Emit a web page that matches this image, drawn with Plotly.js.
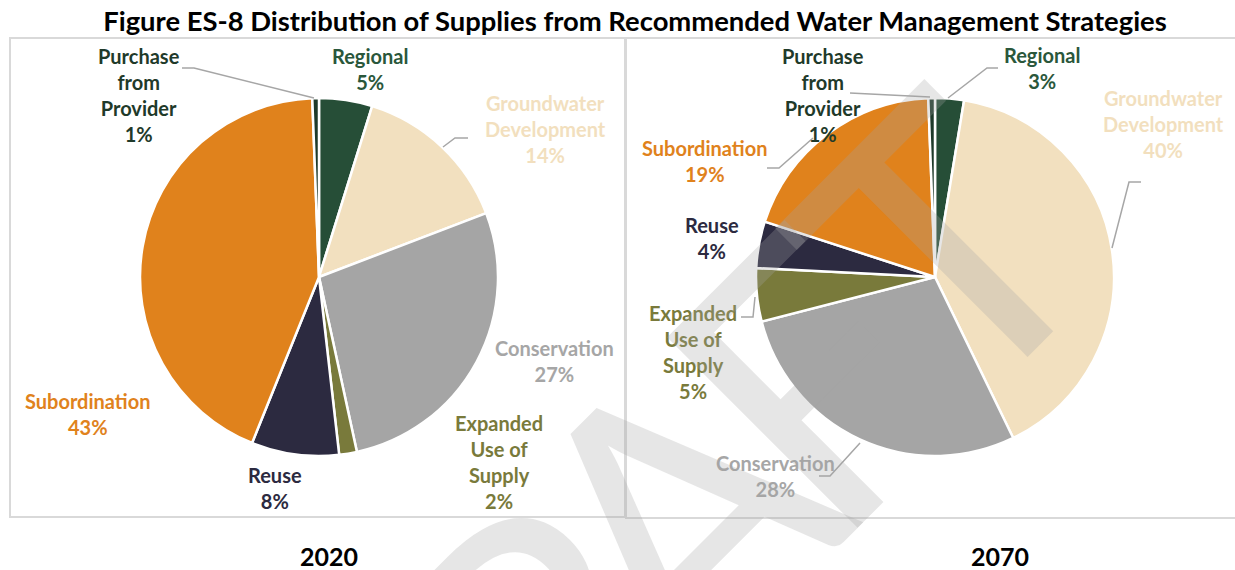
<!DOCTYPE html>
<html>
<head>
<meta charset="utf-8">
<script src="https://cdn.plot.ly/plotly-3.0.1.min.js"></script>
<style>
  html, body { margin: 0; padding: 0; background: #ffffff; }
  #chart { width: 1235px; height: 570px; }
</style>
</head>
<body>
<div id="chart"></div>
<script>
// ---------------- DATA ----------------
const categories = ['Regional', 'Groundwater Development', 'Conservation', 'Expanded Use of Supply', 'Reuse', 'Subordination', 'Purchase from Provider'];
const labelText = ['Regional', 'Groundwater<br>Development', 'Conservation', 'Expanded<br>Use of<br>Supply', 'Reuse', 'Subordination', 'Purchase<br>from<br>Provider'];
const values2020 = [4.8, 14.4, 27.4, 1.6, 7.9, 43.3, 0.6];
const values2070 = [2.6, 40.2, 28.2, 4.8, 4.2, 19.4, 0.6];
const years = ['2020', '2070'];
const chartTitle = 'Figure ES-8 Distribution of Supplies from Recommended Water Management Strategies';
const watermark = ['R', 'A', 'F', 'T'];

// ---------------- STYLE ----------------
const W = 1235, H = 570;
const px = x => x / W;
const py = y => 1 - y / H;
const sliceColors = ['#264E37', '#F2E0BF', '#A5A5A5', '#797A3B', '#2C2A40', '#E0821C', '#1E3A2A'];
const textColors  = ['#2A573B', '#F2DFBE', '#A6A6A6', '#797A3B', '#2C2A40', '#E0821C', '#1F3A2A'];
const FONT = 'Lato, "Open Sans", sans-serif';

const pies = [
  { values: values2020, cx: 319, cy: 277, r: 179,
    labelPos: [[370, 69], [545, 129], [554, 361], [499, 462], [275, 488], [87, 414], [139, 95]],
    leaders: ['M182,68 L194,68 L314,98', 'M468,138 L455,138 L443,147'],
    yearPos: [329, 556] },
  { values: values2070, cx: 935, cy: 277, r: 179,
    labelPos: [[1042, 68], [1163, 124], [775, 476], [693, 352], [712, 238], [704, 161], [823, 95]],
    leaders: ['M850,93 L930,97', 'M998,68 L987,68 L948,98', 'M1141,182 L1129,182 L1112,248',
              'M767,168 L779,168 L813,138', 'M741,317 L753,317 L755,297', 'M819,476 L830,476 L860,443'],
    yearPos: [1000, 556] }
];

function toPaperPath(d) {
  return d.replace(/([ML])\s*([\d.]+),([\d.]+)/g, (m, c, x, y) => c + px(+x).toFixed(5) + ',' + py(+y).toFixed(5));
}

const traces = [];
const annotations = [];
const shapes = [];

// Panel frames
shapes.push({ type: 'rect', xref: 'paper', yref: 'paper', x0: px(10), x1: px(625), y0: py(517), y1: py(38),
              line: { color: '#D9D9D9', width: 2 }, fillcolor: 'rgba(0,0,0,0)', layer: 'below' });
shapes.push({ type: 'rect', xref: 'paper', yref: 'paper', x0: px(626), x1: px(1245), y0: py(518), y1: py(38),
              line: { color: '#D9D9D9', width: 2 }, fillcolor: 'rgba(0,0,0,0)', layer: 'below' });

pies.forEach((p, k) => {
  traces.push({
    type: 'pie',
    labels: categories,
    values: p.values,
    sort: false,
    direction: 'clockwise',
    rotation: 0,
    textinfo: 'none',
    hoverinfo: 'label+percent',
    showlegend: false,
    marker: { colors: sliceColors, line: { color: '#ffffff', width: 2.5 } },
    domain: { x: [px(p.cx - p.r), px(p.cx + p.r)], y: [py(p.cy + p.r), py(p.cy - p.r)] }
  });
  const total = p.values.reduce((a, b) => a + b, 0);
  p.values.forEach((v, i) => {
    const pct = Math.round(v / total * 100) + '%';
    annotations.push({
      xref: 'paper', yref: 'paper', x: px(p.labelPos[i][0]), y: py(p.labelPos[i][1]),
      xanchor: 'center', yanchor: 'middle', showarrow: false, align: 'center',
      text: '<b>' + labelText[i] + '<br>' + pct + '</b>',
      font: { family: FONT, size: 20, color: textColors[i] }
    });
  });
  p.leaders.forEach(d => shapes.push({ type: 'path', xref: 'paper', yref: 'paper', path: toPaperPath(d),
    line: { color: '#A6A6A6', width: 1.5 } }));
  annotations.push({
    xref: 'paper', yref: 'paper', x: px(p.yearPos[0]), y: py(p.yearPos[1]),
    xanchor: 'center', yanchor: 'middle', showarrow: false,
    text: '<b>' + years[k] + '</b>', font: { family: FONT, size: 25, color: '#000000' }
  });
});

// Watermark letters (decorative, partly outside the picture as in the reference)
const wmPos = [[540, 639], [672, 507], [805, 374], [937, 241]];
const wmAnn = watermark.map((ch, i) => ({
  xref: 'paper', yref: 'paper', x: px(wmPos[i][0]), y: py(wmPos[i][1]),
  xanchor: 'center', yanchor: 'middle', showarrow: false, textangle: -45,
  text: ch, font: { family: FONT, size: 376, color: 'rgba(165,165,165,0.28)' }
}));

const layout = {
  width: W, height: H,
  margin: { l: 0, r: 0, t: 0, b: 0 },
  paper_bgcolor: '#ffffff',
  plot_bgcolor: '#ffffff',
  title: { text: '<b>' + chartTitle + '</b>', x: px(635), y: py(21), xanchor: 'center', yanchor: 'middle',
           font: { family: FONT, size: 27.4, color: '#000000' } },
  shapes: shapes,
  annotations: annotations.concat(wmAnn)
};

Plotly.newPlot('chart', traces, layout, { displayModeBar: false, staticPlot: true });
</script>
</body>
</html>
